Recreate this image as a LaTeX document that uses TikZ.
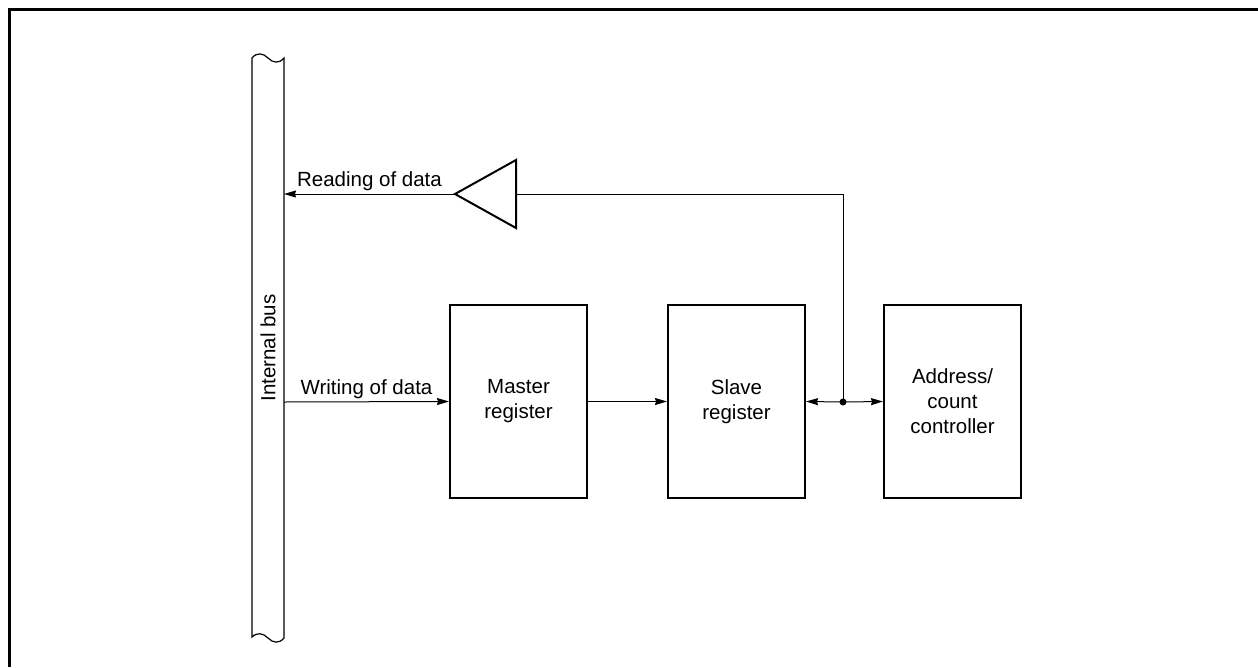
\documentclass[tikz,border=0pt]{standalone}
\usepackage{fontspec}
\setmainfont{Liberation Sans}
\usetikzlibrary{calc,positioning,arrows.meta}
\tikzset{
	>={Stealth[length=12pt,width=7pt,inset=1pt]},
	regbox/.style={
		rectangle,
		draw=black, line width=2pt,
		minimum width=137pt,
		minimum height=193pt,
		align=center,
		font=\fontsize{20.5}{25}\selectfont},
	line/.style={draw, line width=1pt},
	lbl/.style={font=\fontsize{20.5}{24}\selectfont, inner sep=1pt},
}

\begin{document}
\begin{tikzpicture}[x=1pt,y=-1pt]
\useasboundingbox (0,0) rectangle (1258,667);
% outer frame, only top and left edges show
\draw[line width=3pt] (9,667) -- (9,9) -- (1258,9);

% internal bus with torn ends
\draw[line width=1.2pt] (252,58) .. controls (257,52) and (263,53) .. (268,58)
	.. controls (273,63) and (279,64) .. (284,58) -- (284,638)
	.. controls (279,644) and (273,643) .. (268,638)
	.. controls (263,633) and (257,632) .. (252,637) -- cycle;
\node[lbl, rotate=90] (bus) at (268,348) {Internal bus};
\coordinate (busR) at (284,402);
\coordinate (busRd) at (284,194);

% registers
\node[regbox] (master) at (518.5,401.5) {Master\\register};
\node[regbox] (slave) at (736.5,401.5) {Slave\\register};
\node[regbox] (addr) at (952.5,401.5) {Address/\\count\\controller};

% read buffer
\coordinate (buftip) at (455,194);
\coordinate (bufin) at (516,194);
\draw[line width=2pt, line join=miter] (516,160) -- (buftip) -- (516,228) -- cycle;

\coordinate (junc) at (843,402);
\coordinate (corner) at (843,194);

\draw[line, ->] (busR) -- (master.west) node[lbl, midway, above=2pt] {Writing of data};
\draw[line, ->] (master.east) -- (slave.west);
\draw[line, ->] (junc) -- (slave.east);
\draw[line, ->] (junc) -- (addr.west);
\draw[line] (junc) -- (corner) -- (bufin);
\draw[line, ->] (buftip) -- (busRd) node[lbl, midway, above=2pt] {Reading of data};
\fill (junc) circle (3.5pt);
\end{tikzpicture}
\end{document}
